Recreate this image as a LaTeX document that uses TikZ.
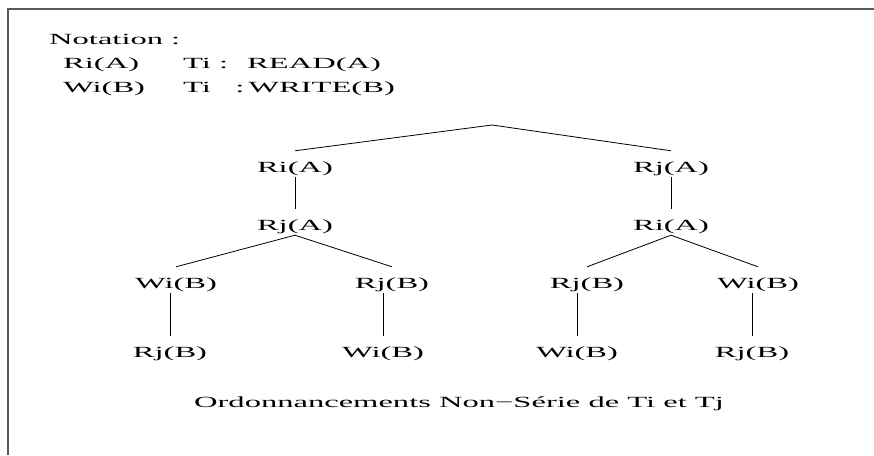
\documentclass[tikz,border=0pt]{standalone}
\usepackage{fontspec}
\setmainfont{Liberation Serif}[FakeStretch=2.1]
\begin{document}
\begin{tikzpicture}[x=1pt,y=-1pt,
        every node/.style={font=\fontsize{15.5}{18}\selectfont},
        op/.style={anchor=base,inner sep=0pt,text height=21pt,text depth=5pt},
        txt/.style={anchor=base west,inner sep=0pt}]
        \useasboundingbox (0,0) rectangle (874,455);

        % Frame
        \draw[line width=1.6pt,black!65] (8,455) -- (8,9) -- (874,9);

        % Notation
        \node[txt] (notation) at (49,44) {Notation :};
        \node[txt] (rkey) at (63,68) {Ri(A)};
        \node[txt] (rdef) at (183,68) {Ti : \ READ(A)};
        \node[txt] (wkey) at (63,92) {Wi(B)};
        \node[txt] (wdef) at (183,92) {Ti\ \ \ :\hspace{4pt}WRITE(B)};

        % Left schedule
        \coordinate (root) at (492,125);
        \node[op] (l1) at (295,172) {Ri(A)};
        \node[op] (l2) at (295,230) {Rj(A)};
        \node[op] (l3a) at (176,288) {Wi(B)};
        \node[op] (l3b) at (392,288) {Rj(B)};
        \node[op] (l4a) at (170,357) {Rj(B)};
        \node[op] (l4b) at (383,357) {Wi(B)};

        % Right schedule
        \node[op] (r1) at (671,172) {Rj(A)};
        \node[op] (r2) at (671,230) {Ri(A)};
        \node[op] (r3a) at (587,288) {Rj(B)};
        \node[op] (r3b) at (758,288) {Wi(B)};
        \node[op] (r4a) at (577,357) {Wi(B)};
        \node[op] (r4b) at (752,357) {Rj(B)};

        % Edges
        \draw[line width=0.8pt] (root) -- (l1.north);
        \draw[line width=0.8pt] (root) -- (r1.north);
        \draw[line width=0.8pt] (l1.south) -- (l2.north);
        \draw[line width=0.8pt] (r1.south) -- (r2.north);
        \draw[line width=0.8pt] (l2.south) -- (l3a.north);
        \draw[line width=0.8pt] (l2.south) -- (l3b.north);
        \draw[line width=0.8pt] (r2.south) -- (r3a.north);
        \draw[line width=0.8pt] (r2.south) -- (r3b.north);
        \draw[line width=0.8pt] (l3a.south -| l4a.north) -- (l4a.north);
        \draw[line width=0.8pt] (l3b.south -| l4b.north) -- (l4b.north);
        \draw[line width=0.8pt] (r3a.south -| r4a.north) -- (r4a.north);
        \draw[line width=0.8pt] (r3b.south -| r4b.north) -- (r4b.north);

        % Caption
        \node[anchor=base] (caption) at (459,407) {Ordonnancements Non−Série de Ti et Tj};
\end{tikzpicture}
\end{document}
